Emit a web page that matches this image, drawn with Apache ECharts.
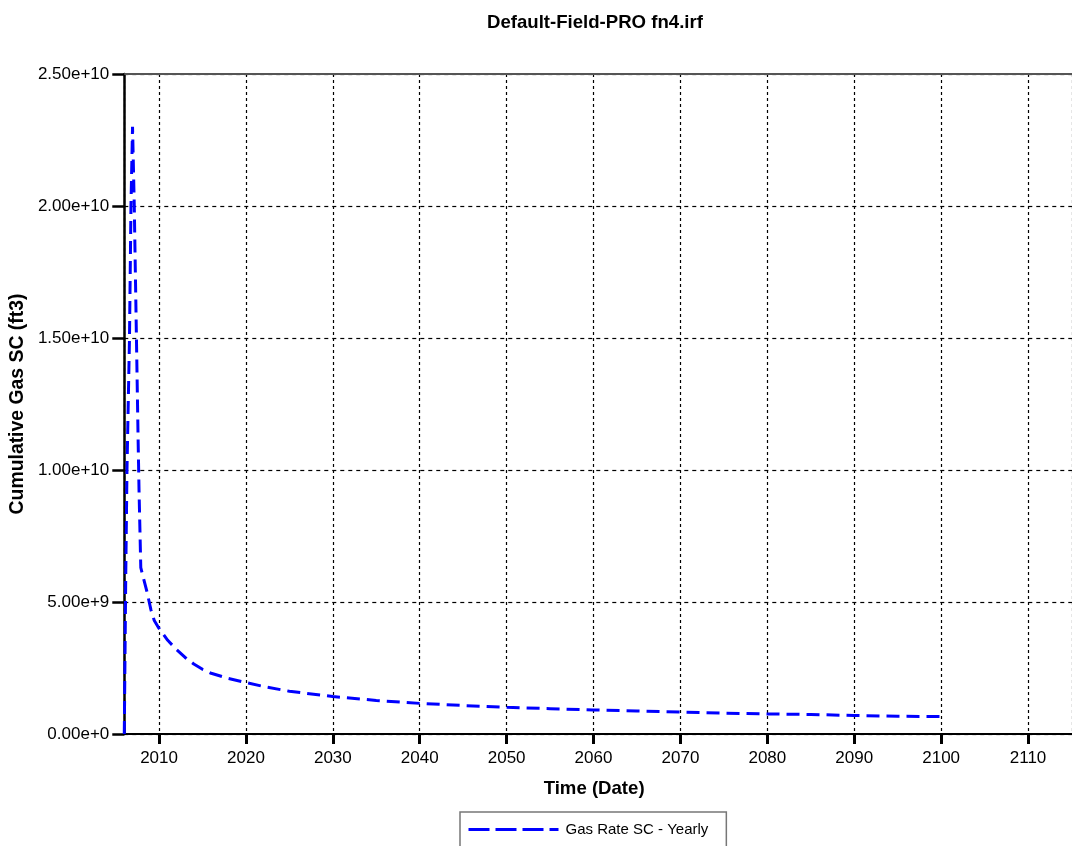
<!DOCTYPE html>
<html>
<head>
<meta charset="utf-8">
<script src="https://cdn.jsdelivr.net/npm/echarts@6/dist/echarts.min.js"></script>
<style>
html,body{margin:0;padding:0;background:#fff;}
#chart{width:1072px;height:846px;}
</style>
</head>
<body>
<div id="chart"></div>
<script>
// Time (decimal year) of each sample
const times = [2006.0, 2006.17, 2006.31, 2006.6, 2006.77, 2006.95, 2007.02, 2007.15, 2007.4, 2007.6, 2007.7, 2007.9,
  2008.6, 2009.07, 2009.45, 2010, 2011, 2012, 2013, 2014, 2015, 2016, 2018, 2020, 2022, 2025,
  2030, 2035, 2040, 2045, 2050, 2055, 2060, 2065, 2070, 2075, 2080, 2085, 2090, 2095, 2100];
// Gas Rate SC - Yearly (ft3)
const gasRate = [0, 6.0e9, 1.0e10, 1.5e10, 2.0e10, 2.3e10, 2.3e10, 2.0e10, 1.5e10, 1.1e10, 9.2e9, 6.3e9,
  5.4e9, 4.7e9, 4.3e9, 4.0e9, 3.55e9, 3.2e9, 2.9e9, 2.65e9, 2.45e9, 2.3e9, 2.1e9, 1.95e9, 1.8e9, 1.62e9,
  1.42e9, 1.27e9, 1.16e9, 1.08e9, 1.01e9, 0.96e9, 0.91e9, 0.87e9, 0.83e9, 0.79e9, 0.76e9, 0.74e9, 0.70e9, 0.67e9, 0.66e9];
const xTickLabels = [2010, 2020, 2030, 2040, 2050, 2060, 2070, 2080, 2090, 2100, 2110];
const yTickValues = [0, 5e9, 1e10, 1.5e10, 2e10, 2.5e10];

const FONT = 'Liberation Sans, Arial, sans-serif';
const chart = echarts.init(document.getElementById('chart'), null, {renderer: 'canvas'});
const data = times.map((t, i) => [t, gasRate[i]]);

chart.setOption({
  animation: false,
  backgroundColor: '#ffffff',
  title: {
    text: 'Default-Field-PRO fn4.irf',
    left: 482, top: 8,
    textStyle: {fontFamily: FONT, fontSize: 18.6, fontWeight: 'bold', color: '#000'}
  },
  legend: {
    data: ['Gas Rate SC - Yearly'],
    left: 460, top: 812,
    orient: 'horizontal',
    itemWidth: 90, itemHeight: 10,
    padding: [10, 18, 12, 7],
    borderColor: '#777', borderWidth: 1.5, backgroundColor: '#fff',
    itemStyle: {opacity: 0, borderWidth: 0},
    lineStyle: {type: [21, 6], width: 3, color: '#0000ff'},
    textStyle: {fontFamily: FONT, fontSize: 15, color: '#000', padding: [0, 0, 0, 2]}
  },
  grid: {left: 123, right: 0, top: 74, bottom: 112, containLabel: false},
  xAxis: [{
    type: 'value', min: 2006, max: 2115.06, splitNumber: 11, minInterval: 10, maxInterval: 10,
    name: 'Time (Date)', nameLocation: 'middle', nameGap: 45,
    nameTextStyle: {fontFamily: FONT, fontSize: 18.6, fontWeight: 'bold', color: '#000', padding: [0, 8, 0, 0]},
    axisLine: {onZero: false, lineStyle: {color: '#000', width: 2}},
    axisTick: {show: true, length: 10, lineStyle: {color: '#000', width: 3}},
    axisLabel: {
      showMinLabel: false, showMaxLabel: false, margin: 16,
      fontFamily: FONT, fontSize: 17, color: '#000',
      formatter: v => xTickLabels.indexOf(Math.round(v)) >= 0 && Math.abs(v - Math.round(v)) < 1e-6 ? String(Math.round(v)) : ''
    },
    splitLine: {show: true, lineStyle: {color: '#000', width: 1.2, type: [3, 3]}}
  }, {
    type: 'value', position: 'top', min: 2006, max: 2115.06,
    axisLine: {onZero: false, lineStyle: {color: '#555', width: 2}},
    axisTick: {show: false}, axisLabel: {show: false}, splitLine: {show: false}
  }],
  yAxis: {
    type: 'value', min: 0, max: 2.5e10, interval: 5e9,
    name: 'Cumulative Gas SC (ft3)', nameLocation: 'middle', nameGap: 90,
    nameTextStyle: {fontFamily: FONT, fontSize: 19.4, fontWeight: 'bold', color: '#000'},
    axisLine: {show: true, onZero: false, lineStyle: {color: '#000', width: 2.5}},
    axisTick: {show: true, length: 12, lineStyle: {color: '#000', width: 2.5}},
    axisLabel: {
      margin: 15, fontFamily: FONT, fontSize: 17, color: '#000',
      formatter: v => yTickValues.some(t => Math.abs(t - v) < 1) ? v.toExponential(2) : ''
    },
    splitLine: {show: true, lineStyle: {color: '#000', width: 1.2, type: [4, 4]}}
  },
  series: [{
    name: 'Gas Rate SC - Yearly',
    type: 'line',
    xAxisIndex: 0,
    data: data,
    showSymbol: false, symbol: 'none',
    lineStyle: {color: '#0000ff', width: 3, type: [13, 7]},
    itemStyle: {color: '#0000ff'}
  }]
});
</script>
</body>
</html>
